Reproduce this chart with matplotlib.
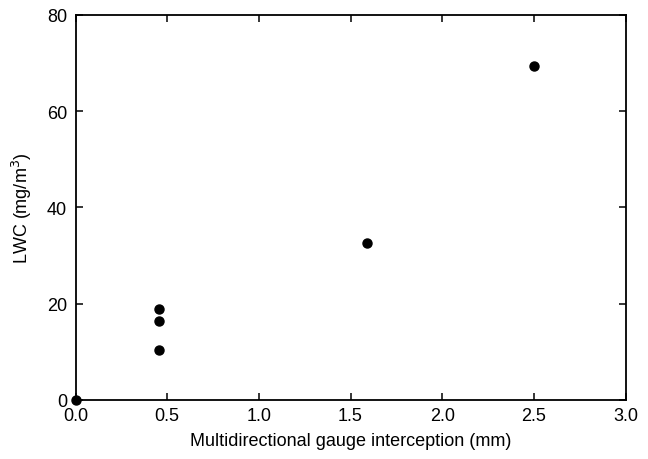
import matplotlib
matplotlib.use("Agg")
import matplotlib.pyplot as plt

plt.rcParams["font.family"] = ["Liberation Sans", "DejaVu Sans"]

# gauge interception (mm) vs liquid water content (mg/m3)
interception = [0.0, 0.455, 0.455, 0.455, 1.59, 2.50]
lwc = [0.0, 18.9, 16.4, 10.3, 32.5, 69.4]

x_ticks = [0.0, 0.5, 1.0, 1.5, 2.0, 2.5, 3.0]
y_ticks = [0, 20, 40, 60, 80]

fig = plt.figure(figsize=(6.48, 4.60), dpi=100)
ax = fig.add_axes([75.5 / 648, 1 - 400.7 / 460, 550 / 648, 384.7 / 460])

ax.plot(interception, lwc, "o", color="black", markersize=6.5, clip_on=False, zorder=5)

ax.set_xlim(0, 3.0)
ax.set_ylim(0, 80)
ax.set_xticks(x_ticks)
ax.set_yticks(y_ticks)
ax.set_xticklabels([f"{t:.1f}" for t in x_ticks])
ax.set_yticklabels([str(t) for t in y_ticks])

ax.tick_params(direction="in", length=5, width=1.1, top=True, right=True,
               labelsize=13)
ax.tick_params(axis="y", pad=6)
ax.tick_params(axis="x", pad=5)
for spine in ax.spines.values():
    spine.set_linewidth(1.3)

ax.set_xlabel("Multidirectional gauge interception (mm)", fontsize=13, labelpad=6)
ax.set_ylabel("LWC (mg/m$^3$)", fontsize=13, labelpad=9)

fig.savefig("out.png", dpi=100)
